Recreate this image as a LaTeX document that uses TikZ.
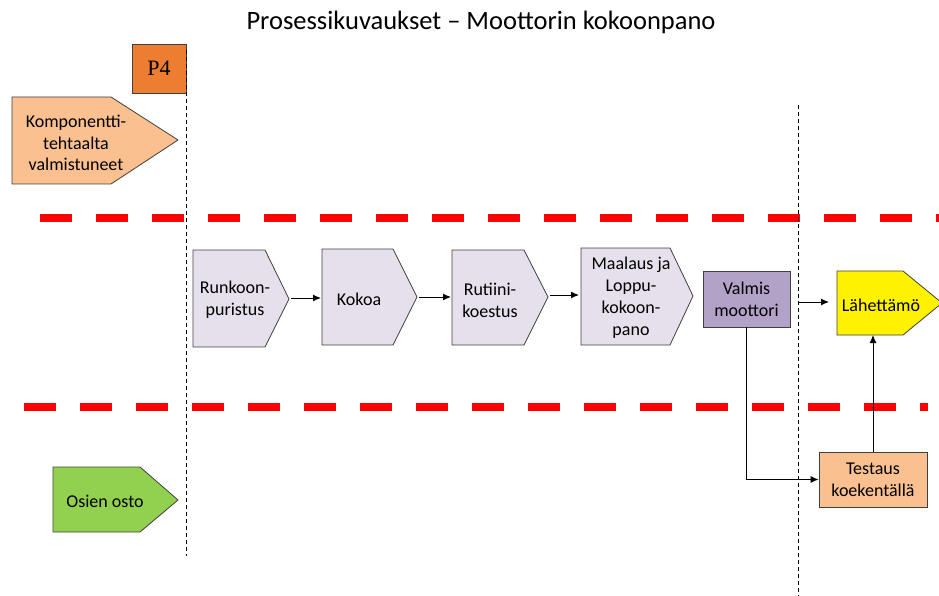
\documentclass[tikz,border=0pt]{standalone}
\usepackage{fontspec}
\setmainfont{Carlito}
\usetikzlibrary{arrows.meta}
\definecolor{lavbox}{HTML}{E6E0EC}
\definecolor{violbox}{HTML}{B3A2C7}
\definecolor{peach}{HTML}{FAC090}
\definecolor{orng}{HTML}{ED7D31}
\definecolor{lgreen}{HTML}{92D050}
\definecolor{edge}{HTML}{404040}
\begin{document}
\begin{tikzpicture}[x=1pt,y=-1pt,
  shapeline/.style={draw=edge,line width=0.8pt},
  lbl/.style={align=center,font=\fontsize{18}{22}\selectfont,inner sep=0pt},
  flow/.style={line width=1pt,-{Latex[length=8pt,width=7pt]}},
  lane/.style={red,line width=8pt,dash pattern=on 32pt off 24pt},
  guide/.style={black,line width=0.6pt,dash pattern=on 4pt off 3pt}]
\useasboundingbox (0,0) rectangle (939,596);
\begin{scope}
\clip (0,0) rectangle (939,596);

% title
\node[font=\fontsize{26.5}{30}\selectfont] (title) at (481,22) {Prosessikuvaukset – Moottorin kokoonpano};

% swimlane borders
\draw[lane] (40,218) -- (960,218);
\draw[lane] (24,407) -- (928,407);

% P4 tag and the two phase guides
\node[fill=orng,draw=edge,line width=0.8pt,minimum width=54pt,minimum height=49pt,
  inner sep=0pt] (p4) at (159,68.5) {\fontspec{Liberation Serif}\fontsize{22}{24}\selectfont P4};
\draw[guide] (186,50) -- (186,556);
\draw[guide] (798,105) -- (798,596);

% incoming components
\draw[shapeline,fill=peach] (12,97) -- (111,97) -- (178,140) -- (111,184) -- (12,184) -- cycle;
\node[lbl,font=\fontsize{18}{21.5}\selectfont] (komp) at (76,143) {Komponentti-\\tehtaalta\\valmistuneet};

\draw[shapeline,fill=lgreen] (53,467) -- (140,467) -- (178,500) -- (140,532) -- (53,532) -- cycle;
\node[lbl] (osto) at (105,501) {Osien osto};

% assembly line
\draw[shapeline,fill=lavbox] (193,250) -- (265,250) -- (289,299) -- (265,347) -- (193,347) -- cycle;
\node[lbl] (runko) at (235,300) {Runkoon-\\puristus};
\coordinate (runko-tip) at (291,298);

\draw[shapeline,fill=lavbox] (322,249) -- (393,249) -- (417,297) -- (393,345) -- (322,345) -- cycle;
\node[lbl] (kokoa) at (359,299) {Kokoa};
\coordinate (kokoa-in) at (321,298);
\coordinate (kokoa-tip) at (419,297);

\draw[shapeline,fill=lavbox] (452,250) -- (524,250) -- (548,297) -- (524,345) -- (452,345) -- cycle;
\node[lbl] (rutiini) at (490,300) {Rutiini-\\koestus};
\coordinate (rutiini-in) at (451,297);
\coordinate (rutiini-tip) at (550,295);

\draw[shapeline,fill=lavbox] (581,248) -- (670,248) -- (693,296) -- (670,345) -- (581,345) -- cycle;
\node[lbl] (maalaus) at (631,298) {Maalaus ja\\Loppu-\\kokoon-\\pano};
\coordinate (maalaus-in) at (579,295);

\node[fill=violbox,draw=edge,line width=0.8pt,minimum width=87pt,minimum height=56pt,
  lbl] (valmis) at (746.5,299) {Valmis\\moottori};

% dispatch
\draw[shapeline,fill=yellow] (837,271) -- (903,271) -- (942,303) -- (903,335) -- (837,335) -- cycle;
\node[lbl] (lahetta) at (881,305) {Lähettämö};
\coordinate (lahetta-in) at (829,302);
\coordinate (lahetta-bot) at (873,335);
\coordinate (lahetta-out) at (799,302);

\node[fill=peach,draw=edge,line width=0.8pt,minimum width=108pt,minimum height=55pt,
  lbl] (testaus) at (873,479.5) {Testaus\\koekentällä};

% connectors
\draw[flow] (runko-tip) -- (kokoa-in);
\draw[flow] (kokoa-tip) -- (rutiini-in);
\draw[flow] (rutiini-tip) -- (maalaus-in);
\draw[flow] (lahetta-out) -- (lahetta-in);
\draw[flow] (valmis.south) |- (testaus.west);
\draw[flow] (testaus.north) -- (lahetta-bot);
\end{scope}
\end{tikzpicture}
\end{document}
